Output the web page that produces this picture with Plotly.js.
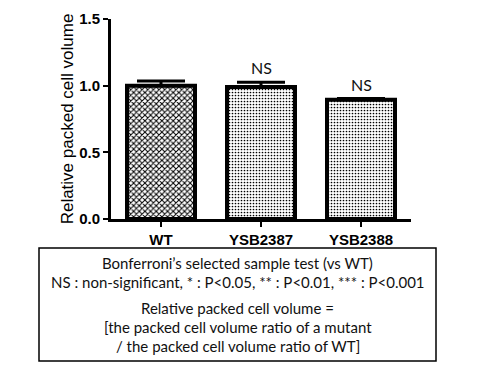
<!DOCTYPE html>
<html><head><meta charset="utf-8">
<script src="https://cdn.plot.ly/plotly-3.0.1.min.js"></script>
<style>html,body{margin:0;padding:0;background:#fff}#chart{width:480px;height:370px}</style>
</head><body><div id="chart"></div>
<script>
const categories = ["WT", "YSB2387", "YSB2388"];
const values = [1.00, 0.99, 0.895];
const errors = [0.035, 0.035, 0.008];
const sigLabels = ["", "NS", "NS"];
const yTicks = [0, 0.5, 1.0, 1.5];
const yTickText = ["0.0", "0.5", "1.0", "1.5"];
const noteLines = [
  "Bonferroni\u2019s selected sample test (vs WT)",
  "NS : non-significant, * : P<0.05, ** : P<0.01, *** : P<0.001",
  "Relative packed cell volume =",
  "[the packed cell volume ratio of a mutant",
  "/ the packed cell volume ratio of WT]"
];

const patterns = categories.map((c, i) => i === 0 ? "x" : ".");
const patSize = categories.map((c, i) => i === 0 ? 4 : 3);
const patSol = categories.map((c, i) => i === 0 ? 0.45 : 0.25);

const trace = {
  type: "bar",
  x: categories,
  y: values,
  width: 0.68,
  marker: {
    color: "white",
    line: {color: "black", width: 4},
    pattern: {shape: patterns, size: patSize, solidity: patSol, fgcolor: "black", bgcolor: "white", fillmode: "replace"}
  },
  error_y: {type: "data", symmetric: false, array: errors, arrayminus: categories.map(() => 0), color: "black", thickness: 3, width: 24},
  hoverinfo: "none"
};

const annotations = [];
categories.forEach((c, i) => {
  if (sigLabels[i]) {
    annotations.push({x: c, y: values[i] + errors[i], xref: "x", yref: "y", text: sigLabels[i],
      showarrow: false, yanchor: "bottom", yshift: 3,
      font: {family: "Lato, 'Open Sans', sans-serif", size: 16, color: "#111"}});
  }
});
const lineY = [263, 282, 308, 327, 346];
noteLines.forEach((t, i) => {
  annotations.push({x: (237.5 - 111) / 300, y: (219 - lineY[i]) / 200, xref: "paper", yref: "paper",
    text: t, showarrow: false, xanchor: "center", yanchor: "middle",
    font: {family: "Lato, 'Open Sans', sans-serif", size: 15, color: "#111"}});
});

const layout = {
  width: 480, height: 370,
  margin: {l: 111, r: 69, t: 19, b: 151},
  paper_bgcolor: "white", plot_bgcolor: "white",
  showlegend: false,
  xaxis: {
    range: [-0.5, 2.5], showline: true, linecolor: "black", linewidth: 3,
    ticks: "outside", ticklen: 5, tickwidth: 2, tickcolor: "black",
    tickfont: {family: "'Liberation Sans', Arial, sans-serif", size: 15, color: "black", weight: "bold"},
    showgrid: false, zeroline: false, fixedrange: true
  },
  yaxis: {
    range: [0, 1.5], showline: true, linecolor: "black", linewidth: 3,
    tickvals: yTicks, ticktext: yTickText,
    ticks: "outside", ticklen: 5, tickwidth: 2, tickcolor: "black",
    tickfont: {family: "'Liberation Sans', Arial, sans-serif", size: 15, color: "black", weight: "bold"},
    showgrid: false, zeroline: false, fixedrange: true,
    title: {text: "Relative packed cell volume", standoff: 2,
      font: {family: "'Liberation Sans', Arial, sans-serif", size: 17, color: "black"}}
  },
  annotations: annotations,
  shapes: [{type: "rect", xref: "paper", yref: "paper",
    x0: (39 - 111) / 300, x1: (436 - 111) / 300, y0: (219 - 361) / 200, y1: (219 - 248) / 200,
    line: {color: "black", width: 1.5}, fillcolor: "rgba(0,0,0,0)"}]
};

Plotly.newPlot("chart", [trace], layout, {staticPlot: true, displayModeBar: false});
</script></body></html>
